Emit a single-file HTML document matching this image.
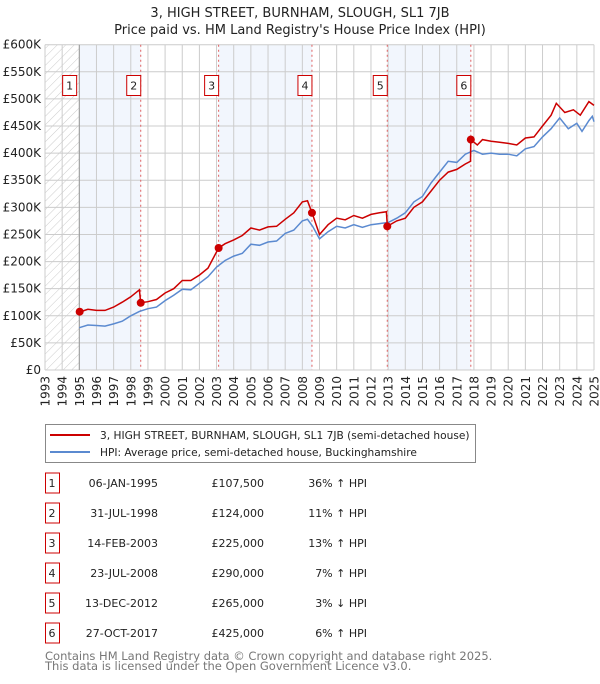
<!DOCTYPE html>
<html><head><meta charset="utf-8"><style>
body{margin:0;background:#fff;width:600px;height:680px;overflow:hidden;font-family:"DejaVu Sans","Liberation Sans",sans-serif;}
svg text{font-family:"DejaVu Sans","Liberation Sans",sans-serif;}
</style></head><body>
<svg id="c" width="600" height="680" xmlns="http://www.w3.org/2000/svg">
<defs><pattern id="hatch" width="6" height="6" patternUnits="userSpaceOnUse" patternTransform="rotate(45)"><line x1="0" y1="0" x2="0" y2="6" stroke="#ccc" stroke-width="1"/></pattern></defs>
<text x="300" y="17" text-anchor="middle" font-size="13" fill="#222">3, HIGH STREET, BURNHAM, SLOUGH, SL1 7JB</text>
<text x="300" y="34" text-anchor="middle" font-size="13" fill="#222">Price paid vs. HM Land Registry's House Price Index (HPI)</text>
<g id="plot"></g>
<g>
<rect x="45.5" y="424.5" width="430" height="38" fill="#fff" stroke="#888"/>
<line x1="50" y1="435" x2="90" y2="435" stroke="#cc0000" stroke-width="2"/>
<text x="100" y="439" font-size="10.6" fill="#222">3, HIGH STREET, BURNHAM, SLOUGH, SL1 7JB (semi-detached house)</text>
<line x1="50" y1="452" x2="90" y2="452" stroke="#5b8ad0" stroke-width="2"/>
<text x="100" y="456" font-size="10.6" fill="#222">HPI: Average price, semi-detached house, Buckinghamshire</text>
</g>
<g id="table"></g>
<text x="45" y="660" font-size="11.5" fill="#777">Contains HM Land Registry data © Crown copyright and database right 2025.</text>
<text x="45" y="670" font-size="11.5" fill="#777">This data is licensed under the Open Government Licence v3.0.</text>
</svg>
<script>
const yTicks=[0,50,100,150,200,250,300,350,400,450,500,550,600];
const yTickLabels=["£0","£50K","£100K","£150K","£200K","£250K","£300K","£350K","£400K","£450K","£500K","£550K","£600K"];
const years=[1993,1994,1995,1996,1997,1998,1999,2000,2001,2002,2003,2004,2005,2006,2007,2008,2009,2010,2011,2012,2013,2014,2015,2016,2017,2018,2019,2020,2021,2022,2023,2024,2025];
const saleDates=[1995.02,1998.58,2003.12,2008.56,2012.95,2017.82];
const salePrices=[107.5,124,225,290,265,425];
const saleLabels=["1","2","3","4","5","6"];
const saleDateText=["06-JAN-1995","31-JUL-1998","14-FEB-2003","23-JUL-2008","13-DEC-2012","27-OCT-2017"];
const salePriceText=["£107,500","£124,000","£225,000","£290,000","£265,000","£425,000"];
const saleHpiText=["36% ↑ HPI","11% ↑ HPI","13% ↑ HPI","7% ↑ HPI","3% ↓ HPI","6% ↑ HPI"];
const hpiT=[1995,1995.5,1996,1996.5,1997,1997.5,1998,1998.5,1999,1999.5,2000,2000.5,2001,2001.5,2002,2002.5,2003,2003.5,2004,2004.5,2005,2005.5,2006,2006.5,2007,2007.5,2008,2008.3,2008.6,2009,2009.5,2010,2010.5,2011,2011.5,2012,2012.5,2013,2013.5,2014,2014.5,2015,2015.5,2016,2016.5,2017,2017.5,2018,2018.5,2019,2019.5,2020,2020.5,2021,2021.5,2022,2022.5,2023,2023.5,2024,2024.3,2024.7,2024.9,2025];
const hpiV=[78,83,82,81,85,90,100,108,113,116,128,138,149,148,160,172,190,202,210,215,232,230,236,238,252,258,275,278,265,242,255,265,262,268,263,268,270,272,280,290,310,320,345,365,385,383,398,405,398,400,398,398,395,408,412,430,445,465,445,455,440,460,468,458];
const priceT=[1995.02,1995.5,1996,1996.5,1997,1997.5,1998,1998.5,1998.58,1999,1999.5,2000,2000.5,2001,2001.5,2002,2002.5,2003.12,2003.5,2004,2004.5,2005,2005.5,2006,2006.5,2007,2007.5,2008,2008.3,2008.56,2009,2009.5,2010,2010.5,2011,2011.5,2012,2012.5,2012.9,2012.95,2013.5,2014,2014.5,2015,2015.5,2016,2016.5,2017,2017.5,2017.8,2017.82,2018.2,2018.5,2019,2019.5,2020,2020.5,2021,2021.5,2022,2022.5,2022.8,2023.3,2023.8,2024.2,2024.7,2025];
const priceV=[107,112,110,110,116,125,135,148,124,126,130,142,150,165,165,175,188,225,233,240,248,262,258,264,265,278,290,310,312,290,250,268,280,277,285,280,287,290,292,265,275,280,300,310,330,350,365,370,380,385,425,415,425,422,420,418,415,428,430,450,470,492,475,480,470,495,488];

const NS="http://www.w3.org/2000/svg";
const L=45,R=594,T=44.7,B=370;
const xS=t=>L+(t-1993)/32*(R-L);
const yS=v=>B-v/600*(B-T);
function mk(tag,attrs,parent){const e=document.createElementNS(NS,tag);for(const k in attrs)e.setAttribute(k,attrs[k]);parent.appendChild(e);return e;}
const plot=document.getElementById('plot');
const bandEdges=[1995].concat(saleDates.slice(1));
for(let i=0;i<bandEdges.length;i+=2){
  const x0=xS(i===0?1995:bandEdges[i]),x1=xS(bandEdges[i+1]!==undefined?bandEdges[i+1]:2025);
  const b=mk('rect',{x:x0,y:T,width:x1-x0,height:B-T,fill:'#f2f6fd'},plot);
  
  
}
const h=mk('rect',{x:L,y:T,width:xS(1995)-L,height:B-T,fill:'url(#hatch)'},plot);


years.forEach(y=>{const g=mk('line',{x1:xS(y),x2:xS(y),y1:T,y2:B,stroke:'#ccc','stroke-width':1},plot);


const t=mk('text',{x:0,y:0,'font-size':12,fill:'#222','text-anchor':'end',transform:`translate(${xS(y)+4.5},${B+6}) rotate(-90)`},plot);t.textContent=y;

});
yTicks.forEach((v,i)=>{const g=mk('line',{x1:L,x2:R,y1:yS(v),y2:yS(v),stroke:'#ccc','stroke-width':1},plot);


const t=mk('text',{x:L-4,y:yS(v)+4,'font-size':12,fill:'#222','text-anchor':'end'},plot);t.textContent=yTickLabels[i];

});
const l1995=mk('line',{x1:xS(1995),x2:xS(1995),y1:T,y2:B,stroke:'#999','stroke-width':1},plot);


saleDates.forEach((d,i)=>{
  if(i>0){const v=mk('line',{x1:xS(d),x2:xS(d),y1:T,y2:B,stroke:'#e06060','stroke-width':1,'stroke-dasharray':'2,3'},plot);
  
  }
  const bx=xS(d)-(i===0?10:7);
  const r=mk('rect',{x:bx-7,y:75.5,width:14,height:20,fill:'#fff',stroke:'#cc0000'},plot);
  
  
  const t=mk('text',{x:bx,y:89.5,'font-size':11,fill:'#222','text-anchor':'middle'},plot);t.textContent=saleLabels[i];
  
  
});
const pathOf=(ts,vs)=>ts.map((t,i)=>(i?'L':'M')+xS(t).toFixed(1)+','+yS(vs[i]).toFixed(1)).join('');
const hp=mk('path',{d:pathOf(hpiT,hpiV),fill:'none',stroke:'#5b8ad0','stroke-width':1.5},plot);


const pp=mk('path',{d:pathOf(priceT,priceV),fill:'none',stroke:'#cc0000','stroke-width':1.5},plot);


saleDates.forEach((d,i)=>{const c=mk('circle',{cx:xS(d),cy:yS(salePrices[i]),r:4,fill:'#cc0000'},plot);

});
const tb=document.getElementById('table');
saleDates.forEach((d,i)=>{
  const y=483+i*30;
  const r=mk('rect',{x:45.5,y:y-10,width:14,height:20,fill:'#fff',stroke:'#cc0000'},tb);
  
  
  const cols=[[52,saleLabels[i],'middle'],[158,saleDateText[i],'end'],[264,salePriceText[i],'end'],[367,saleHpiText[i],'end']];
  cols.forEach(c=>{const t=mk('text',{x:c[0],y:y+4,'font-size':11,fill:'#222','text-anchor':c[2]},tb);t.textContent=c[1];
  
  });
});
</script>
</body></html>
